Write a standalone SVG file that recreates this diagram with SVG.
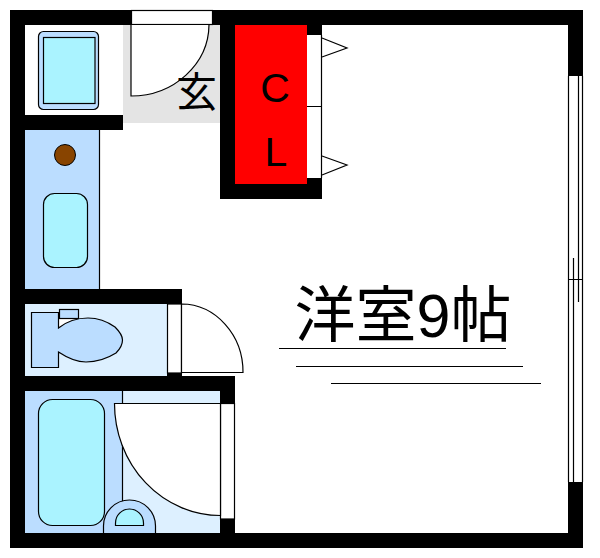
<svg xmlns="http://www.w3.org/2000/svg" width="600" height="558" viewBox="0 0 600 558">
<style>
.w{fill:#000}
.l{fill:none;stroke:#000;stroke-width:1.2}
.o{stroke:#000;stroke-width:1.2}
.white{fill:#fff}
.blue{fill:#bbddff}
.pale{fill:#ddf0ff}
.aqua{fill:#aaf3ff}
.t{font-family:"Liberation Sans","Noto Sans CJK JP",sans-serif;fill:#000}
</style>
<rect width="600" height="558" fill="#fff"/>
<g id="floors">
<rect x="123" y="25" width="97" height="98" fill="#e4e4e4"/>
<rect class="blue" x="25" y="130" width="74" height="159"/>
<rect class="pale" x="25" y="304" width="142" height="72"/>
<rect class="pale" x="122" y="391" width="98" height="142"/>
<rect class="blue" x="25" y="391" width="97.500" height="142"/>
<rect x="235" y="25" width="72" height="160" fill="#ff0000"/>
</g>
<g id="walls">
<rect class="w" x="10" y="10" width="121" height="15"/>
<rect class="w" x="212" y="10" width="371" height="15"/>
<rect class="w" x="10" y="10" width="15" height="538"/>
<rect class="w" x="10" y="533" width="573" height="15"/>
<rect class="w" x="568" y="10" width="15" height="66"/>
<rect class="w" x="568" y="482" width="15" height="66"/>
<rect class="w" x="25" y="115" width="98" height="15"/>
<rect class="w" x="220" y="25" width="15" height="174"/>
<rect class="w" x="220" y="184" width="102" height="15"/>
<rect class="w" x="307" y="25" width="15" height="10"/>
<rect class="w" x="307" y="178" width="15" height="21"/>
<rect class="w" x="25" y="289" width="157" height="15"/>
<rect class="w" x="10" y="376" width="225" height="15"/>
<rect class="w" x="167" y="373" width="15" height="3"/>
<rect class="w" x="220" y="391" width="15" height="12"/>
<rect class="w" x="220" y="519" width="15" height="14"/>
</g>
<g id="entry-door">
<rect class="white o" x="131.500" y="10.500" width="81" height="14"/>
<path class="white o" d="M131 24.500V96A78 72 0 0 0 209 24.500Z"/>
</g>
<g id="closet-doors">
<path class="l" d="M321.500 35V178M307 106.500H322"/>
<path class="l" d="M322 38L347 48L322 57"/>
<path class="l" d="M322 156L347 165L322 175"/>
</g>
<g id="washer">
<rect class="blue o" x="38.500" y="31.500" width="60" height="78" rx="5"/>
<rect class="aqua o" x="43.500" y="37.500" width="51.500" height="66"/>
</g>
<g id="kitchen">
<path class="l" d="M99.500 130V289"/>
<circle cx="65" cy="155" r="10.500" fill="#884400" stroke="#000"/>
<rect class="aqua o" x="43.500" y="193.500" width="44" height="74" rx="11"/>
</g>
<g id="toilet">
<path class="white" d="M58 318H78L58 328Z"/>
<rect class="blue o" x="59.500" y="309.500" width="19" height="9"/>
<path class="blue o" d="M31.500 312.500H58.500V328C66 322 76 318 88 318C98 318 108 322 115 327C120 332 122.500 336 122.500 340C122.500 344 120 349 116 353C108 358 97 362 86 362C76 362 66 357 58.500 352V367.500H31.500Z"/>
</g>
<g id="toilet-door">
<rect class="white o" x="167.500" y="304" width="14" height="69"/>
<path class="white o" d="M181.500 304A62 68 0 0 1 243 372.500H181.500Z"/>
</g>
<g id="bath">
<path class="l" d="M122.500 391V503"/>
<rect class="aqua o" x="38.500" y="399.500" width="66" height="126" rx="14"/>
<path class="blue o" d="M103.500 533V526A26 26 0 0 1 155.500 526V533"/>
<path class="aqua o" d="M115.500 525.500V523A14 14 0 0 1 143.500 523V525.500Z"/>
</g>
<g id="bath-door">
<rect class="white o" x="220.500" y="403.500" width="14" height="115.500"/>
<path class="white o" d="M220.500 403.500H114.500A106 112 0 0 0 220.500 515.500Z"/>
</g>
<g id="window">
<rect class="white" x="568" y="76" width="15" height="406"/>
<path class="l" d="M568.500 76V482M573.500 258V482M578.500 76V302M582.500 76V482M568 279.500H583"/>
</g>
<g id="labels">
<text class="t" x="275" y="102" font-size="41" text-anchor="middle">C</text>
<text class="t" x="276" y="166" font-size="41" text-anchor="middle">L</text>
<text class="t" x="196.500" y="106.500" font-size="41" text-anchor="middle">玄</text>
<text class="t" x="403" y="336.500" font-size="61" text-anchor="middle">洋室9帖</text>
</g>
<g id="lines">
<path class="l" d="M279 348.500H506M296 366.500H523M331 383.500H541"/>
</g>
</svg>
